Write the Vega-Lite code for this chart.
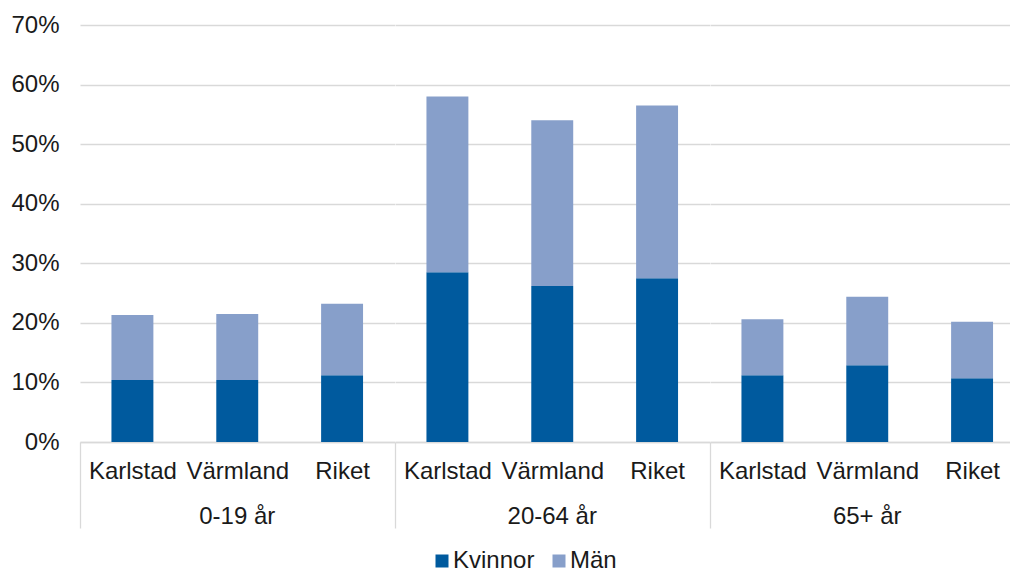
{
  "$schema": "https://vega.github.io/schema/vega-lite/v6.json",
  "padding": {"left": 10, "top": 13, "right": 0, "bottom": 0},
  "background": "white",
  "data": {"values": [
    {"grupp": "0-19 år", "region": "Karlstad", "kon": "Kvinnor", "andel": 0.104},
    {"grupp": "0-19 år", "region": "Karlstad", "kon": "Män", "andel": 0.109},
    {"grupp": "0-19 år", "region": "Värmland", "kon": "Kvinnor", "andel": 0.104},
    {"grupp": "0-19 år", "region": "Värmland", "kon": "Män", "andel": 0.111},
    {"grupp": "0-19 år", "region": "Riket", "kon": "Kvinnor", "andel": 0.112},
    {"grupp": "0-19 år", "region": "Riket", "kon": "Män", "andel": 0.120},
    {"grupp": "20-64 år", "region": "Karlstad", "kon": "Kvinnor", "andel": 0.285},
    {"grupp": "20-64 år", "region": "Karlstad", "kon": "Män", "andel": 0.295},
    {"grupp": "20-64 år", "region": "Värmland", "kon": "Kvinnor", "andel": 0.262},
    {"grupp": "20-64 år", "region": "Värmland", "kon": "Män", "andel": 0.278},
    {"grupp": "20-64 år", "region": "Riket", "kon": "Kvinnor", "andel": 0.275},
    {"grupp": "20-64 år", "region": "Riket", "kon": "Män", "andel": 0.290},
    {"grupp": "65+ år", "region": "Karlstad", "kon": "Kvinnor", "andel": 0.112},
    {"grupp": "65+ år", "region": "Karlstad", "kon": "Män", "andel": 0.094},
    {"grupp": "65+ år", "region": "Värmland", "kon": "Kvinnor", "andel": 0.129},
    {"grupp": "65+ år", "region": "Värmland", "kon": "Män", "andel": 0.115},
    {"grupp": "65+ år", "region": "Riket", "kon": "Kvinnor", "andel": 0.107},
    {"grupp": "65+ år", "region": "Riket", "kon": "Män", "andel": 0.095}
  ]},
  "facet": {
    "column": {
      "field": "grupp", "type": "nominal",
      "sort": ["0-19 år", "20-64 år", "65+ år"],
      "header": {"labelOrient": "bottom", "title": null, "labelFont": "Liberation Sans", "labelFontSize": 24, "labelColor": "#1a1a1a", "labelPadding": -24}
    }
  },
  "spacing": 0,
  "spec": {
    "width": 314.5,
    "height": 417,
    "mark": {"type": "bar"},
    "encoding": {
      "x": {
        "field": "region", "type": "nominal",
        "sort": ["Karlstad", "Värmland", "Riket"],
        "scale": {"paddingInner": 0.6, "paddingOuter": 0.3},
        "axis": {
          "title": null, "labelAngle": 0, "labelFont": "Liberation Sans", "labelFontSize": 24, "labelColor": "#1a1a1a",
          "domainColor": "#d9d9d9", "domainWidth": 1.3,
          "tickSize": 86, "tickWidth": 1.3,
          "tickOffset": -52.42, "labelOffset": 52.42,
          "tickColor": {"condition": {"test": "datum.value === 'Karlstad'", "value": "#d9d9d9"}, "value": "transparent"},
          "labelPadding": -69
        }
      },
      "y": {
        "field": "andel", "type": "quantitative", "stack": "zero",
        "scale": {"domain": [0, 0.7]},
        "axis": {
          "title": null, "format": ".0%", "values": [0, 0.1, 0.2, 0.3, 0.4, 0.5, 0.6, 0.7],
          "labelFont": "Liberation Sans", "labelFontSize": 24, "labelColor": "#1a1a1a", "labelPadding": 21,
          "ticks": false, "domain": false, "gridColor": "#d9d9d9", "gridWidth": 1.3
        }
      },
      "order": {"field": "kon", "sort": "ascending"},
      "color": {
        "field": "kon", "type": "nominal",
        "scale": {"domain": ["Kvinnor", "Män"], "range": ["#005a9e", "#879fca"]},
        "legend": {"title": null, "orient": "none", "legendX": 350, "legendY": 524, "direction": "horizontal", "symbolType": "square", "symbolSize": 169, "symbolStrokeWidth": 0, "labelFont": "Liberation Sans", "labelFontSize": 24, "labelColor": "#1a1a1a", "labelOffset": -1, "columnPadding": 12, "padding": 0}
      }
    }
  },
  "config": {"view": {"stroke": null}}
}
